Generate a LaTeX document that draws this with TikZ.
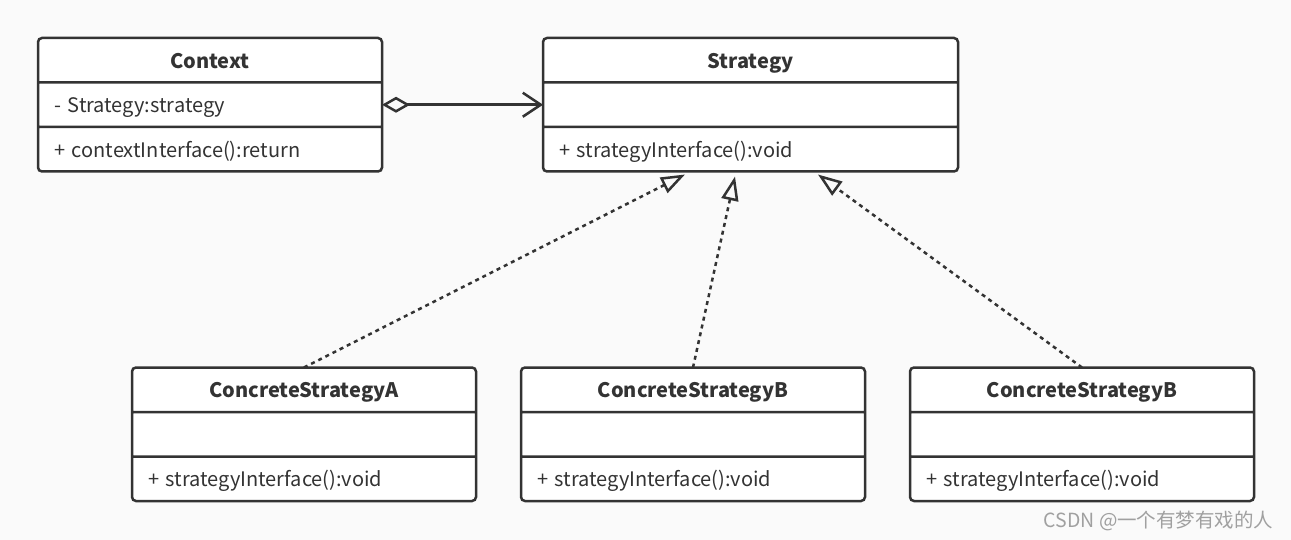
\documentclass[tikz,border=0pt]{standalone}
\usepackage{fontspec}
\setmainfont{Noto Sans CJK SC}
\usepackage{tikz}
\usetikzlibrary{positioning, calc, shapes.multipart, arrows.meta}
\definecolor{ink}{HTML}{333333}
\definecolor{canvas}{HTML}{FAFAFA}
\definecolor{markgray}{HTML}{A0A0A0}
\newcommand{\rowstrut}{\rule[-13pt]{0pt}{42pt}}
\newcommand{\classtitle}[1]{\hspace*{\fill}\textbf{#1}\hspace*{\fill}\rowstrut}

\begin{document}
\begin{tikzpicture}[x=1pt, y=-1pt,
    classbox/.style={rectangle split, rectangle split parts=3, draw=ink, fill=white, line width=2.5pt, rounded corners=4pt, inner xsep=16pt, inner ysep=0pt, outer sep=0pt, align=left, text=ink, font=\fontsize{20pt}{24pt}\selectfont},
    aggr/.style={draw=ink, line width=2.5pt, {Diamond[open,length=28pt,width=16pt]}-{Straight Barb[length=18pt,width=24pt]}},
    realize/.style={draw=ink, line width=2.5pt, dash pattern=on 4pt off 4pt, -{Triangle[open,length=24pt,width=17pt]}},
    credit/.style={text=markgray, font=\fontsize{19.5pt}{22pt}\selectfont}
    ]
\fill[canvas] (0,0) rectangle (1291,540);
\useasboundingbox (0,0) rectangle (1291,540);

\node[classbox, text width=312pt, anchor=north west] (ctx) at (38,38)
    {\classtitle{Context}
     \nodepart{two}- Strategy:strategy\rowstrut
     \nodepart{three}+ contextInterface():return\rowstrut};
\node[classbox, text width=383pt, right=161pt of ctx] (strat)
    {\classtitle{Strategy}
     \nodepart{two}\rowstrut
     \nodepart{three}+ strategyInterface():void\rowstrut};

\node[classbox, text width=312pt, below right=196pt and 94pt of ctx.south west] (concA)
    {\classtitle{ConcreteStrategyA}
     \nodepart{two}\rowstrut
     \nodepart{three}+ strategyInterface():void\rowstrut};
\node[classbox, text width=312pt, right=45pt of concA] (concB)
    {\classtitle{ConcreteStrategyB}
     \nodepart{two}\rowstrut
     \nodepart{three}+ strategyInterface():void\rowstrut};
\node[classbox, text width=312pt, right=45pt of concB] (concC)
    {\classtitle{ConcreteStrategyB}
     \nodepart{two}\rowstrut
     \nodepart{three}+ strategyInterface():void\rowstrut};

% aggregation
\draw[aggr] ($(ctx.text split east)!.5!(ctx.two split east)$) -- ($(strat.text split west)!.5!(strat.two split west)$);

% realizations
\coordinate (tipA) at ($(strat.south west)+(142,3)$);
\coordinate (tipB) at ($(strat.south west)+(192,5)$);
\coordinate (tipC) at ($(strat.south west)+(275,3)$);
\draw[realize] (concA.north) -- (tipA);
\draw[realize] (concB.north) -- (tipB);
\draw[realize] (concC.north) -- (tipC);

\node[credit, anchor=east] (mark) at (1277,521) {CSDN @一个有梦有戏的人};
\end{tikzpicture}
\end{document}
